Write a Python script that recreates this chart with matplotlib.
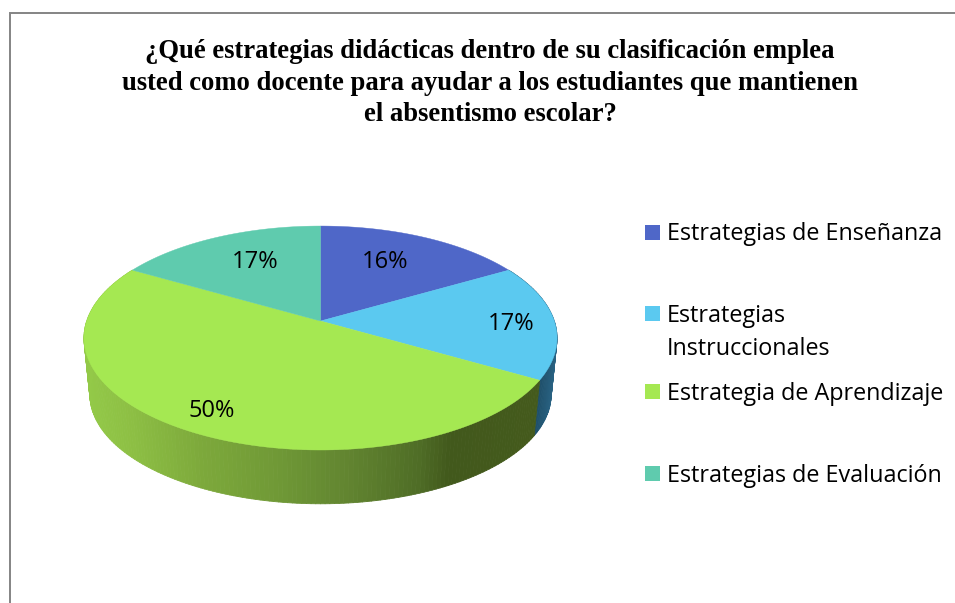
import numpy as np
import matplotlib
matplotlib.use("Agg")
import matplotlib.pyplot as plt
from matplotlib.collections import PolyCollection
from matplotlib.colors import to_rgb
from matplotlib.patches import Rectangle

title_text = ("¿Qué estrategias didácticas dentro de su clasificación emplea\n"
              "usted como docente para ayudar a los estudiantes que mantienen\n"
              "el absentismo escolar?")
categories = ["Estrategias de Enseñanza", "Estrategias\nInstruccionales",
              "Estrategia de Aprendizaje", "Estrategias de Evaluación"]
shares = [16.67, 16.67, 50.0, 16.66]
percent_labels = ["16%", "17%", "50%", "17%"]

slice_colors = ["#4f67c8", "#5bc9f0", "#a5e852", "#5fcbae"]
label_xy = [(385, 262), (511, 324), (212, 411), (255, 262)]
legend_y = [232, 313, 391, 473]
CX, CY, RX, RY, PERSP = 320.5, 321.0, 233.8, 109.4, 0.152
DEPTH, BOTTOM_SCALE = 57.0, 0.975


def rim(theta_deg, scale=1.0, dy=0.0):
    t = np.radians(theta_deg)
    u, v = np.sin(t), np.cos(t)
    s = scale / (1 + PERSP * v)
    return CX + RX * u * s, CY + dy - RY * v * s


def side_color(i, x):
    if i == 1:
        stops_x, stops_c = [535, 557], ["#1c4a63", "#2a6485"]
    else:
        stops_x = [85, 130, 200, 280, 350, 420, 450, 540]
        stops_c = ["#93c948", "#8dbf44", "#7da93b", "#6f9836", "#618430",
                   "#4f6d26", "#42591c", "#445a1c"]
    rgb = np.array([to_rgb(c) for c in stops_c])
    return tuple(np.interp(x, stops_x, rgb[:, k]) for k in range(3))


fig = plt.figure(figsize=(9.55, 6.03), dpi=100, facecolor="white")
ax = fig.add_axes([0, 0, 1, 1])
ax.set_xlim(0, 955)
ax.set_ylim(603, 0)
ax.axis("off")

# frame: only the top and left edges fall inside the picture
ax.plot([10, 10, 955], [603, 13, 13], color="#848484", lw=1.4, solid_joinstyle="miter")

edges = np.concatenate([[0], np.cumsum(shares)]) / np.sum(shares) * 360

# side wall, slices 2 and 3 face the viewer
for i in (1, 2):
    th = np.arange(edges[i], edges[i + 1] + 0.5, 1.0)
    polys, cols = [], []
    for a, b in zip(th[:-1], th[1:]):
        xa, ya = rim(a)
        xb, yb = rim(b)
        xc, yc = rim(b, BOTTOM_SCALE, DEPTH)
        xd, yd = rim(a, BOTTOM_SCALE, DEPTH)
        polys.append([(xa, ya), (xb, yb), (xc, yc), (xd, yd)])
        cols.append(side_color(i, (xa + xb) / 2))
    ax.add_collection(PolyCollection(polys, facecolors=cols, edgecolors=cols, linewidths=0.6))

# top face
for i, col in enumerate(slice_colors):
    th = np.linspace(edges[i], edges[i + 1], 120)
    xs, ys = rim(th)
    ax.fill(np.r_[CX, xs], np.r_[CY, ys], color=col, lw=0.3, zorder=3)

for txt, (x, y) in zip(percent_labels, label_xy):
    ax.text(x, y, txt, fontsize=17, family="Open Sans", color="black",
            ha="center", va="center", zorder=4)

ax.text(490, 83, title_text, family="Liberation Serif", weight="bold", fontsize=19.2,
        ha="center", va="center", linespacing=1.33, color="black")

for name, col, y in zip(categories, slice_colors, legend_y):
    ax.add_patch(Rectangle((645, y - 7.5), 15, 15, facecolor=col, edgecolor="none"))
    ax.text(667, y - 9.5, name, family="Open Sans", fontsize=16.8, color="black",
            ha="left", va="top", linespacing=1.52)

fig.savefig("out.png", dpi=100)
